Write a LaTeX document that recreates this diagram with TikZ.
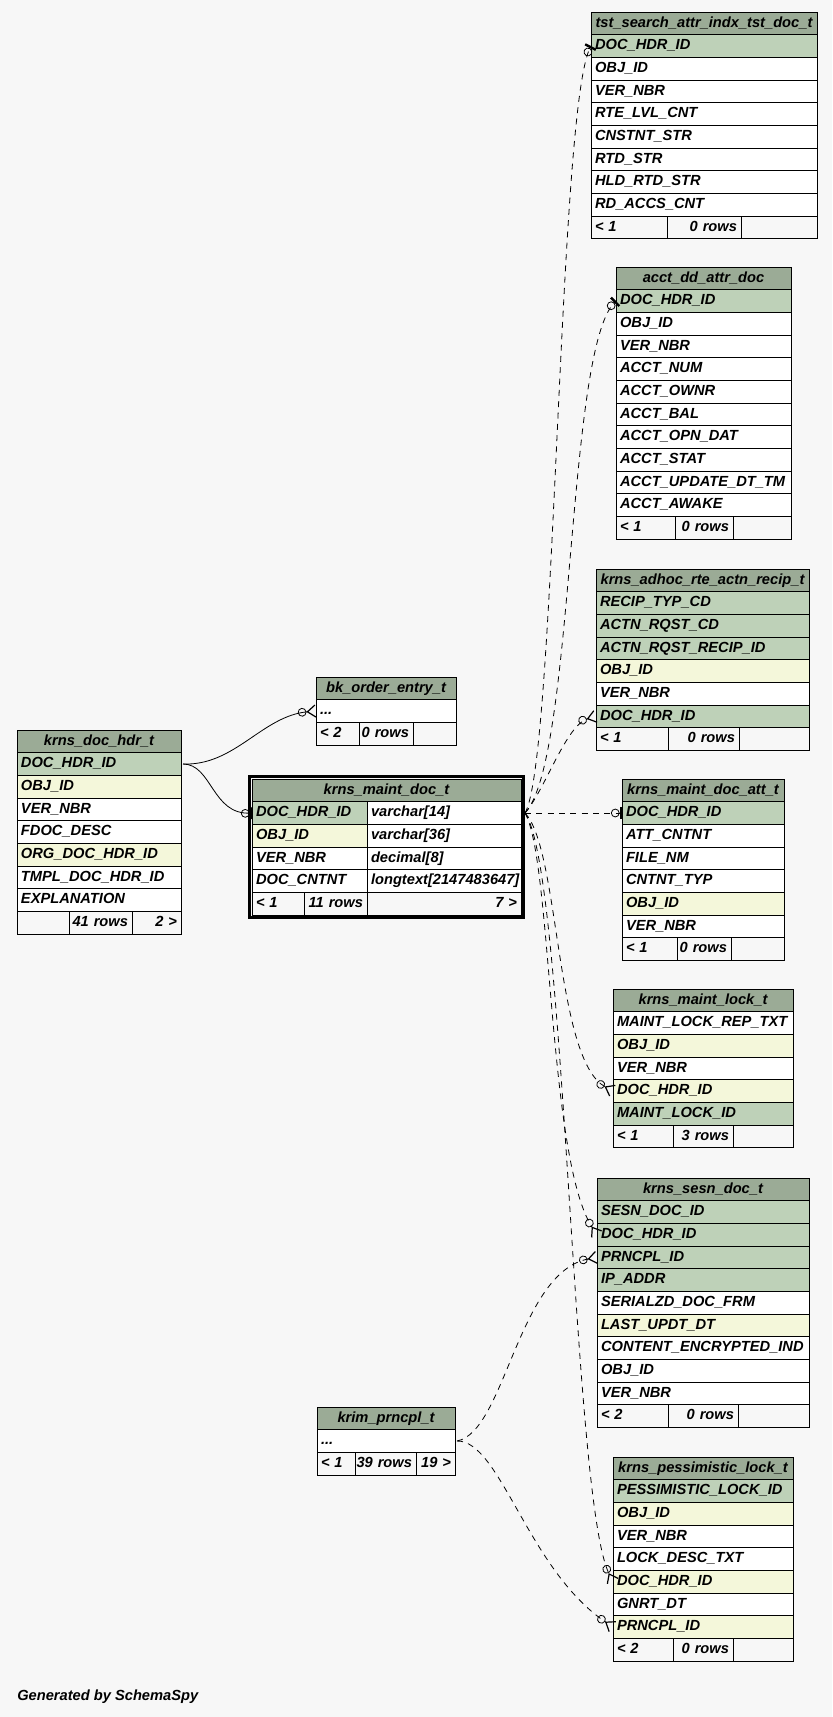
\documentclass[tikz,border=0pt]{standalone}
\usepackage{fontspec}
\setmainfont{Liberation Sans}
\usetikzlibrary{arrows.meta,fit}

\definecolor{bgc}{HTML}{F7F7F7}
\definecolor{hdrgreen}{HTML}{9BAB96}
\definecolor{pkgreen}{HTML}{BED1B8}
\definecolor{idxyellow}{HTML}{F4F7DA}

\tikzset{
  tblcell/.style={draw=black, line width=0.7pt, anchor=north west, minimum height=17pt,
    outer sep=0pt, inner xsep=3pt, inner ysep=0pt, text height=8pt, text depth=2.5pt, align=left,
    font=\fontsize{11}{13}\selectfont\bfseries\itshape},
  fkline/.style={line width=0.6pt},
  implied/.style={fkline, dash pattern=on 4.5pt off 4pt},
  zeromany/.style={-{Circle[open,length=6.5pt,width=6.5pt]Straight Barb[reversed,length=6pt,width=9pt,line width=0.9pt]}},
  zeroone/.style={-{Circle[open,length=6.5pt,width=6.5pt]Bar[width=9pt,line width=1.8pt]}}
}

% table: id, x, y, width (px), title, rows (fill/text)
\newcommand{\dbtable}[6]{%
  \pgfmathsetlengthmacro{\tblw}{#4*0.75pt-6pt}%
  \node[tblcell, fill=hdrgreen, align=center, text width=\tblw] (#1-0) at (#2,#3) {#5};
  \foreach \bg/\txt [count=\i from 1] in {#6}{%
    \pgfmathtruncatemacro{\j}{\i-1}%
    \node[tblcell, fill=\bg, text width=\tblw] (#1-\i) at (#1-\j.south west) {\txt};
  }%
}
% footer: id, row above, three cell widths (px), three texts
\newcommand{\dbfoot}[8]{%
  \pgfmathsetlengthmacro{\cwa}{#3*0.75pt-6pt}%
  \pgfmathsetlengthmacro{\cwb}{#4*0.75pt-6pt}%
  \pgfmathsetlengthmacro{\cwc}{#5*0.75pt-6pt}%
  \node[tblcell, fill=bgc, text width=\cwa] (#1-f1) at (#2.south west) {\makebox[\cwa][l]{#6}};
  \node[tblcell, fill=bgc, text width=\cwb] (#1-f2) at (#1-f1.north east) {\makebox[\cwb][r]{#7}};
  \node[tblcell, fill=bgc, text width=\cwc] (#1-f3) at (#1-f2.north east) {\makebox[\cwc][r]{#8}};
}

\begin{document}
\begin{tikzpicture}[x=0.75pt, y=-0.75pt]
  % --- Canvas ---
  \fill[bgc] (0,0) rectangle (832,1717);
  \useasboundingbox (0,0) rectangle (832,1717);

  % --- Tables (right column) ---
  \dbtable{tst}{591}{12}{226}{tst\_search\_attr\_indx\_tst\_doc\_t}{
    pkgreen/DOC\_HDR\_ID, white/OBJ\_ID, white/VER\_NBR, white/RTE\_LVL\_CNT,
    white/CNSTNT\_STR, white/RTD\_STR, white/HLD\_RTD\_STR, white/RD\_ACCS\_CNT}
  \dbfoot{tst}{tst-8}{76}{74}{76}{< 1}{0 rows}{}

  \dbtable{acct}{616}{267}{175}{acct\_dd\_attr\_doc}{
    pkgreen/DOC\_HDR\_ID, white/OBJ\_ID, white/VER\_NBR, white/ACCT\_NUM,
    white/ACCT\_OWNR, white/ACCT\_BAL, white/ACCT\_OPN\_DAT, white/ACCT\_STAT,
    white/ACCT\_UPDATE\_DT\_TM, white/ACCT\_AWAKE}
  \dbfoot{acct}{acct-10}{59}{58}{58}{< 1}{0 rows}{}

  \dbtable{adhoc}{596}{569}{213}{krns\_adhoc\_rte\_actn\_recip\_t}{
    pkgreen/RECIP\_TYP\_CD, pkgreen/ACTN\_RQST\_CD, pkgreen/ACTN\_RQST\_RECIP\_ID,
    idxyellow/OBJ\_ID, white/VER\_NBR, pkgreen/DOC\_HDR\_ID}
  \dbfoot{adhoc}{adhoc-6}{72}{71}{70}{< 1}{0 rows}{}

  \dbtable{att}{622}{779}{162}{krns\_maint\_doc\_att\_t}{
    pkgreen/DOC\_HDR\_ID, white/ATT\_CNTNT, white/FILE\_NM, white/CNTNT\_TYP,
    idxyellow/OBJ\_ID, white/VER\_NBR}
  \dbfoot{att}{att-6}{55}{54}{53}{< 1}{0 rows}{}

  \dbtable{lock}{613}{989}{180}{krns\_maint\_lock\_t}{
    white/MAINT\_LOCK\_REP\_TXT, idxyellow/OBJ\_ID, white/VER\_NBR,
    idxyellow/DOC\_HDR\_ID, pkgreen/MAINT\_LOCK\_ID}
  \dbfoot{lock}{lock-5}{60}{60}{60}{< 1}{3 rows}{}

  \dbtable{sesn}{597}{1178}{212}{krns\_sesn\_doc\_t}{
    pkgreen/SESN\_DOC\_ID, pkgreen/DOC\_HDR\_ID, pkgreen/PRNCPL\_ID, pkgreen/IP\_ADDR,
    white/SERIALZD\_DOC\_FRM, idxyellow/LAST\_UPDT\_DT, white/CONTENT\_ENCRYPTED\_IND,
    white/OBJ\_ID, white/VER\_NBR}
  \dbfoot{sesn}{sesn-9}{71}{70}{71}{< 2}{0 rows}{}

  \dbtable{pess}{613}{1457}{180}{krns\_pessimistic\_lock\_t}{
    pkgreen/PESSIMISTIC\_LOCK\_ID, idxyellow/OBJ\_ID, white/VER\_NBR,
    white/LOCK\_DESC\_TXT, idxyellow/DOC\_HDR\_ID, white/GNRT\_DT, idxyellow/PRNCPL\_ID}
  \dbfoot{pess}{pess-7}{60}{60}{60}{< 2}{0 rows}{}

  % --- Tables (left and middle) ---
  \dbtable{hdr}{17}{730}{164}{krns\_doc\_hdr\_t}{
    pkgreen/DOC\_HDR\_ID, idxyellow/OBJ\_ID, white/VER\_NBR, white/FDOC\_DESC,
    idxyellow/ORG\_DOC\_HDR\_ID, white/TMPL\_DOC\_HDR\_ID, white/EXPLANATION}
  \dbfoot{hdr}{hdr-7}{52}{63}{49}{}{41 rows}{2 >}

  \dbtable{bk}{316}{677}{140}{bk\_order\_entry\_t}{white/.{}.{}.}
  \dbfoot{bk}{bk-1}{43}{54}{43}{< 2}{0 rows}{}

  \dbtable{prncpl}{317}{1407}{138}{krim\_prncpl\_t}{white/.{}.{}.}
  \dbfoot{prncpl}{prncpl-1}{38}{61}{39}{< 1}{39 rows}{19 >}

  % focus table with name and type columns
  \pgfmathsetlengthmacro{\tblw}{269*0.75pt-6pt}
  \pgfmathsetlengthmacro{\namew}{115*0.75pt-6pt}
  \pgfmathsetlengthmacro{\typew}{154*0.75pt-6pt}
  \node[tblcell, fill=hdrgreen, align=center, text width=\tblw] (maint-0) at (252,779) {krns\_maint\_doc\_t};
  \foreach \bg/\nm/\tp [count=\i from 1] in {pkgreen/DOC\_HDR\_ID/varchar[14],
      idxyellow/OBJ\_ID/varchar[36], white/VER\_NBR/decimal[8], white/DOC\_CNTNT/longtext[2147483647]}{
    \pgfmathtruncatemacro{\j}{\i-1}
    \node[tblcell, fill=\bg, text width=\namew] (maint-\i) at (maint-\j.south west) {\nm};
    \node[tblcell, fill=white, text width=\typew] (maint-t\i) at (maint-\i.north east) {\tp};
  }
  \dbfoot{maint}{maint-4}{52}{63}{154}{< 1}{11 rows}{7 >}
  \node[draw, line width=2.2pt, inner sep=1.6pt, fit=(maint-0)(maint-f1)(maint-f3)] (maintframe) {};

  % --- Connectors ---
  \coordinate (dochdr) at ([xshift=1.5pt]hdr-1.east);
  \coordinate (mdoc) at ([xshift=3pt]maint-t1.east);
  \coordinate (prn) at ([xshift=1.5pt]prncpl-1.east);

  % real foreign keys
  \draw[fkline, zeromany] (dochdr) .. controls (235,766) and (262,716) .. (bk-1.west);
  \draw[fkline, zeroone] (dochdr) .. controls (212,764) and (212,815) .. (maint-1.west);

  % implied relationships from the document header id
  \draw[implied, zeroone] (mdoc) .. controls (556,760) and (558,110) .. (tst-1.west);
  \draw[implied, zeroone] (mdoc) .. controls (575,760) and (566,350) .. (acct-1.west);
  \draw[implied, zeromany] (mdoc) .. controls (545,790) and (566,725) .. (adhoc-6.west);
  \draw[implied, zeroone] (mdoc) -- (att-1.west);
  \draw[implied, zeromany] (mdoc) .. controls (560,850) and (555,1060) .. (lock-4.west);
  \draw[implied, zeromany] (mdoc) .. controls (552,860) and (548,1160) .. (sesn-2.west);
  \draw[implied, zeromany] (mdoc) .. controls (566,870) and (572,1500) .. (pess-5.west);

  % implied relationships from the principal
  \draw[implied, zeromany] (prn) .. controls (505,1432) and (518,1272) .. (sesn-3.west);
  \draw[implied, zeromany] (prn) .. controls (500,1440) and (528,1570) .. (pess-7.west);

  % --- Footer note ---
  \node[anchor=west, inner sep=0pt, font=\fontsize{11}{13}\selectfont\bfseries\itshape] (credit) at (17,1697) {Generated by SchemaSpy};
\end{tikzpicture}
\end{document}
